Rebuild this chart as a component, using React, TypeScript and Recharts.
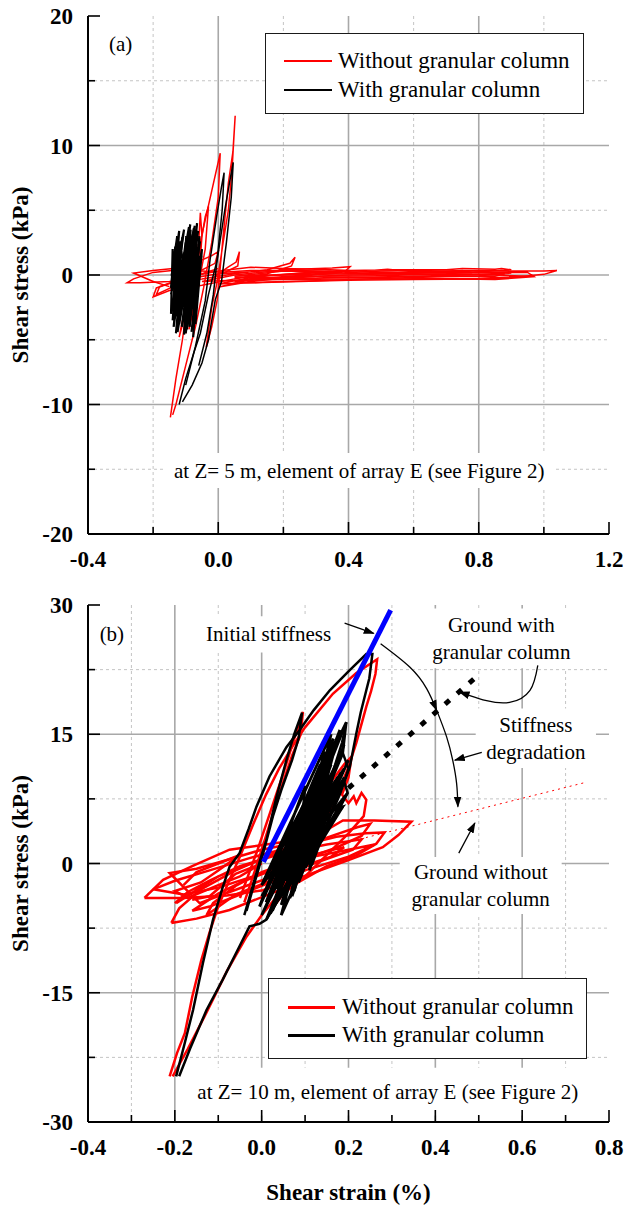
import React from 'react';
import { LineChart, Line, XAxis, YAxis, CartesianGrid, ReferenceArea, Legend } from 'recharts';

type P = [number, number];
const toPts = (a: P[]) => a.map(([x, y]) => ({ x, y }));
const FONT = '"Liberation Serif", "Times New Roman", serif';

const SERIES = [
  { name: 'Without granular column', color: '#ff0000' },
  { name: 'With granular column', color: '#000000' },
];

// ---------- panel (a) axes ----------
const A_X_TICKS = [-0.4, -0.2, 0, 0.2, 0.4, 0.6, 0.8, 1.0, 1.2];
const A_X_LABELED = [-0.4, 0, 0.4, 0.8, 1.2];
const A_X_MAJOR_GRID = [0, 0.4, 0.8];
const A_X_MINOR_GRID = [-0.2, 0.2, 0.6, 1.0];
const A_Y_TICKS = [-20, -15, -10, -5, 0, 5, 10, 15, 20];
const A_Y_LABELED = [-20, -10, 0, 10, 20];
const A_Y_MAJOR_GRID = [-10, 0, 10];
const A_Y_MINOR_GRID = [-15, -5, 5, 15];

// ---------- panel (b) axes ----------
const B_X_TICKS = [-0.4, -0.3, -0.2, -0.1, 0, 0.1, 0.2, 0.3, 0.4, 0.5, 0.6, 0.7, 0.8];
const B_X_LABELED = [-0.4, -0.2, 0, 0.2, 0.4, 0.6, 0.8];
const B_X_MAJOR_GRID = [-0.2, 0, 0.2, 0.4, 0.6];
const B_X_MINOR_GRID = [-0.3, -0.1, 0.1, 0.3, 0.5, 0.7];
const B_Y_TICKS = [-30, -22.5, -15, -7.5, 0, 7.5, 15, 22.5, 30];
const B_Y_LABELED = [-30, -15, 0, 15, 30];
const B_Y_MAJOR_GRID = [-15, 0, 15];
const B_Y_MINOR_GRID = [-22.5, -7.5, 7.5, 22.5];

// ---------- panel (a) data ----------
const A_RED_BIG: P[] = [[-0.147,-11.0],[-0.13,-8.0],[-0.11,-5.0],[-0.096,-2.4],[-0.07,0.8],[-0.045,3.7],[-0.02,6.5],[0.006,9.4],[0.0,6.0],[-0.02,2.5],[-0.045,-1.0],[-0.07,-4.0],[-0.1,-7.0],[-0.13,-10.0],[-0.14,-10.8]];
const A_RED_PEAK: P[] = [[-0.037,-5.6],[-0.02,-2.5],[-0.003,-0.5],[0.015,2.5],[0.031,5.0],[0.042,8.0],[0.052,12.3],[0.045,9.5],[0.031,7.1],[0.015,3.0],[-0.003,-1.9],[-0.02,-4.0],[-0.037,-5.6]];
const A_RED_SMALL: P[] = [[-0.1,-4.5],[-0.07,0],[-0.04,4.5],[-0.03,5.3],[-0.04,2],[-0.07,-2],[-0.09,-4.2],[-0.06,-0.5],[-0.05,3],[-0.055,4.8],[-0.06,2.5],[-0.08,-1],[-0.12,-4.8],[-0.11,-3.5]];
const A_RED_LEFT: P[] = [[-0.15,-0.9],[-0.2,-0.5],[-0.26,0.15],[-0.2,0.35],[-0.1,0.6],[-0.02,1.5],[0.0,1.8],[-0.01,0.9],[-0.08,0.0],[-0.18,-0.9],[-0.19,-1.5],[-0.13,-0.8],[-0.05,0.1],[0.0,0.5]];
const A_RED_FLAT: P[] = [[-0.02,-0.3],[0.03,0.6],[0.055,1.0],[0.065,1.8],[0.06,0.7],[0.02,0.2],[-0.05,0.3],[-0.12,0.4],[-0.2,0.2],[-0.26,-0.3],[-0.28,-0.6],[-0.24,-0.6],[-0.15,-0.5],[-0.05,-0.3],[0.05,0.1],[0.15,0.4],[0.22,0.9],[0.236,1.37],[0.225,0.7],[0.15,0.1],[0.05,-0.3],[-0.05,-0.8],[-0.15,-1.2],[-0.2,-1.7],[-0.19,-1.0],[-0.12,-0.4],[0.0,0.1],[0.2,0.4],[0.35,0.55],[0.405,0.64],[0.39,0.3],[0.25,-0.1],[0.1,-0.5],[0.006,-0.9],[0.1,-0.3],[0.3,0.05],[0.5,0.3],[0.6,0.35],[0.7,0.3],[0.8,0.35],[0.9,0.3],[1.0,0.3],[1.04,0.35],[1.0,0.05],[0.9,-0.2],[0.8,-0.3],[0.6,-0.35],[0.4,-0.4],[0.25,-0.5],[0.1,-0.6],[0.05,-0.5],[0.2,-0.2],[0.4,0.0],[0.6,0.15],[0.8,0.2],[0.95,0.2],[0.97,-0.13],[0.85,-0.35],[0.6,-0.25],[0.4,-0.15],[0.2,-0.3],[0.1,-0.1],[0.3,0.2],[0.5,0.1],[0.7,0.0],[0.88,0.1],[0.85,-0.1],[0.6,-0.1],[0.3,-0.25],[0.05,-0.2]];
const A_RED_FLAT2: P[] = [[-0.1,-0.2],[0.0,0.3],[0.1,0.6],[0.2,0.5],[0.3,0.45],[0.45,0.3],[0.52,0.45],[0.6,0.25],[0.75,0.25],[0.9,0.15],[0.8,-0.05],[0.6,-0.2],[0.45,-0.3],[0.3,-0.45],[0.15,-0.55],[0.0,-0.7],[0.1,-0.2],[0.25,0.15],[0.4,0.35],[0.55,0.4],[0.7,0.4],[0.75,0.5],[0.85,0.45],[0.87,0.5],[0.9,0.4],[0.7,0.1],[0.5,-0.05],[0.3,-0.1],[0.1,-0.35],[-0.05,-0.5],[0.05,0.0],[0.15,0.25],[0.25,0.35],[0.35,0.25],[0.2,0.0],[0.08,-0.15]];
const A_RED_FLAT3: P[] = [[0.0,-0.45],[0.2,-0.35],[0.4,-0.3],[0.6,-0.3],[0.8,-0.25],[0.95,-0.1],[0.8,0.05],[0.6,0.05],[0.4,0.1],[0.2,0.0],[0.05,-0.1],[0.2,0.3],[0.4,0.25],[0.6,0.2],[0.75,0.35],[0.78,0.2],[0.5,0.2],[0.3,0.3],[0.1,0.35],[0.0,0.2]];
const A_BLACK_BIG: P[] = [[-0.12,-10.0],[-0.1,-8.0],[-0.075,-6.0],[-0.055,-4.5],[-0.03,-1.5],[-0.003,1.2],[0.02,5.0],[0.035,7.2],[0.046,8.7],[0.04,6.0],[0.025,2.5],[0.01,-0.5],[-0.009,-1.9],[-0.03,-5.0],[-0.05,-6.8],[-0.08,-8.5],[-0.11,-9.8]];
const A_BLACK_SECOND: P[] = [[-0.1,-8.5],[-0.07,-5.5],[-0.04,-2.0],[-0.025,1.2],[-0.005,4.5],[0.01,6.8],[0.018,7.9],[0.012,5.0],[0.0,2.0],[-0.015,-1.5],[-0.035,-4.5],[-0.06,-7.0]];
const A_BLACK_CLUSTER: P[] = [[-0.142,-2.4],[-0.11,2.9],[-0.137,-4.0],[-0.1,2.5],[-0.13,-3.2],[-0.086,3.9],[-0.117,-2.9],[-0.093,3.2],[-0.125,-4.4],[-0.075,3.6],[-0.108,-3.6],[-0.065,4.0],[-0.096,-4.2],[-0.08,2.8],[-0.12,-3.8],[-0.07,3.3],[-0.088,-4.0],[-0.058,3.0],[-0.077,-4.8],[-0.06,1.5],[-0.1,-3.0],[-0.132,2.2],[-0.145,-1.0],[-0.12,3.4],[-0.14,-3.5],[-0.09,3.7],[-0.105,-4.6],[-0.068,2.4],[-0.085,-3.2],[-0.05,2.0],[-0.07,-3.8],[-0.055,1.0],[-0.115,-1.5],[-0.128,1.0],[-0.138,-2.0],[-0.104,1.8],[-0.112,-2.2],[-0.078,1.2]];
const A_BLACK_CLUSTER2: P[] = [[-0.145,-1.5],[-0.105,3.5],[-0.14,-2.8],[-0.095,2.0],[-0.128,-4.2],[-0.082,3.0],[-0.122,-2.0],[-0.072,3.8],[-0.112,-4.0],[-0.062,3.4],[-0.1,-4.5],[-0.056,2.6],[-0.092,-3.8],[-0.052,1.5],[-0.082,-4.4],[-0.062,0.5],[-0.09,-2.0],[-0.118,2.6],[-0.135,-0.5],[-0.14,2.0],[-0.145,-3.0],[-0.11,1.0],[-0.13,-4.5],[-0.1,0.5],[-0.12,-1.0],[-0.085,3.5],[-0.095,-2.5],[-0.065,2.0],[-0.08,-2.5],[-0.058,0.0],[-0.134,0.5],[-0.126,3.0],[-0.143,0.0],[-0.118,-3.2],[-0.098,3.0],[-0.106,-1.0]];

// ---------- panel (b) data ----------
const B_RED_BIG: P[] = [[-0.212,-24.7],[-0.195,-22.0],[-0.177,-19.7],[-0.16,-15.5],[-0.139,-11.2],[-0.12,-8.0],[-0.1,-5.0],[-0.075,-2.0],[-0.05,0.8],[-0.02,4.5],[0.01,8.0],[0.04,11.0],[0.07,13.5],[0.1,15.8],[0.164,19.7],[0.218,22.1],[0.266,23.7],[0.262,22.0],[0.252,20.0],[0.241,18.2],[0.218,14.0],[0.2,11.2],[0.17,7.5],[0.13,3.5],[0.08,-0.5],[0.04,-3.5],[0.0,-6.0],[-0.035,-8.5],[-0.08,-12.5],[-0.127,-17.3],[-0.17,-21.5],[-0.205,-24.7]];
const B_RED_SPIKE: P[] = [[-0.05,-4.0],[-0.01,1.5],[0.02,6.0],[0.05,10.5],[0.075,14.5],[0.095,17.6],[0.09,15.0],[0.07,12.5],[0.04,8.0],[0.015,4.0],[-0.01,0.0],[-0.04,-4.5]];
const B_RED_MID: P[] = [[0.0,-4.0],[0.04,0.5],[0.08,3.5],[0.12,6.5],[0.16,9.5],[0.19,11.5],[0.207,12.4],[0.2,10.0],[0.185,8.0],[0.2,7.0],[0.212,7.8],[0.218,7.0],[0.23,8.2],[0.241,7.4],[0.235,5.5],[0.2,3.5],[0.15,1.0],[0.1,-1.5],[0.05,-3.5],[0.02,-5.5]];
const B_RED_FLAT1: P[] = [[-0.27,-4.0],[-0.227,-1.9],[-0.16,-0.3],[-0.074,1.6],[0.05,2.5],[0.12,3.0],[0.187,5.0],[0.26,5.0],[0.345,4.85],[0.315,3.3],[0.279,1.9],[0.2,0.4],[0.157,-0.4],[0.08,-1.8],[0.003,-3.1],[-0.08,-3.7],[-0.18,-4.0],[-0.27,-4.0]];
const B_RED_FLAT2: P[] = [[-0.208,-6.9],[-0.19,-5.2],[-0.14,-3.0],[-0.06,-0.8],[0.03,1.2],[0.1,2.2],[0.172,3.1],[0.24,3.5],[0.283,3.6],[0.264,2.3],[0.22,1.0],[0.15,-0.3],[0.08,-2.3],[-0.074,-5.4],[-0.15,-6.4],[-0.208,-6.9]];
const B_RED_FLAT3: P[] = [[-0.2,-4.6],[-0.17,-3.3],[-0.12,-2.0],[-0.05,-0.3],[0.05,1.2],[0.15,2.2],[0.23,2.8],[0.21,1.6],[0.12,0.0],[0.03,-1.8],[-0.06,-3.6],[-0.127,-6.0],[-0.112,-4.6],[-0.06,-2.6],[0.0,-1.0],[0.1,0.8],[0.19,1.9],[0.16,0.8],[0.06,-0.9],[-0.03,-2.5],[-0.143,-4.6],[-0.212,-1.1],[-0.15,-0.6],[-0.08,0.4],[0.0,1.6],[0.1,2.6],[0.0,0.5],[-0.1,-1.5],[-0.197,-4.6]];
const B_RED_FLAT4: P[] = [[-0.25,-3.0],[-0.2,-2.0],[-0.12,-0.8],[-0.03,0.6],[0.06,1.8],[0.15,3.0],[0.22,4.2],[0.25,4.6],[0.23,3.2],[0.17,1.8],[0.08,0.2],[-0.02,-1.5],[-0.1,-2.8],[-0.18,-3.6],[-0.25,-3.0]];
const B_RED_FLAT5: P[] = [[-0.16,-5.5],[-0.1,-3.5],[-0.04,-2.0],[0.04,-0.5],[0.12,0.8],[0.2,1.6],[0.26,2.2],[0.2,0.8],[0.1,-0.8],[0.02,-2.2],[-0.06,-3.8],[-0.12,-5.0],[-0.16,-5.5]];
const B_RED_LEFT: P[] = [[-0.18,-2.5],[-0.15,-1.0],[-0.1,0.0],[-0.05,1.0],[-0.1,-0.8],[-0.14,-2.2],[-0.2,-3.2],[-0.17,-4.0],[-0.1,-2.5],[-0.05,-1.5],[0.0,0.0],[-0.06,-1.2],[-0.12,-3.8],[-0.16,-4.2]];
const B_BLACK_BIG: P[] = [[-0.197,-24.7],[-0.178,-21.0],[-0.158,-17.0],[-0.135,-11.5],[-0.112,-6.5],[-0.09,-2.8],[-0.074,-0.4],[-0.051,1.2],[-0.03,4.0],[-0.012,6.6],[0.018,10.1],[0.057,13.5],[0.0875,15.5],[0.12,17.8],[0.157,20.1],[0.2,22.3],[0.241,24.3],[0.255,24.3],[0.248,21.5],[0.241,20.1],[0.228,17.5],[0.218,15.1],[0.203,11.2],[0.18,8.0],[0.15,4.5],[0.11,1.0],[0.07,-2.0],[0.035,-4.5],[0.011,-6.5],[-0.005,-7.0],[-0.028,-7.3],[-0.051,-9.6],[-0.09,-13.5],[-0.127,-17.0],[-0.165,-21.5],[-0.19,-24.7]];
const B_BLACK_SPIKE: P[] = [[-0.04,-6.0],[-0.02,-2.5],[0.0,1.0],[0.011,2.7],[0.034,7.7],[0.057,12.0],[0.075,15.0],[0.093,17.5],[0.085,14.5],[0.07,12.0],[0.045,8.5],[0.026,5.5],[0.005,1.5],[-0.015,-2.0],[-0.035,-5.5]];
const B_BLACK_RIGHT: P[] = [[0.1,-0.5],[0.15,6.0],[0.187,6.6],[0.17,5.5],[0.198,8.2],[0.19,9.5],[0.2,11],[0.187,12.8],[0.195,16.4],[0.185,14],[0.16,10],[0.12,5],[0.08,1]];
const B_BLACK_DENSE: P[] = [[0.0,-3.8],[0.15,9.0],[0.011,-6.5],[0.17,13.5],[0.03,-4.5],[0.195,16.4],[0.02,-2.0],[0.16,11.5],[0.05,-3.5],[0.187,12.8],[0.04,-1.0],[0.175,10.0],[0.07,-2.5],[0.198,8.2],[0.06,-0.5],[0.18,15.5],[0.09,-1.5],[0.14,12.0],[0.025,-5.5],[0.165,14.5],[0.08,0.5],[0.19,11.0],[0.015,-1.0],[0.13,10.0],[0.055,-2.0],[0.187,6.6],[0.1,-0.5],[0.155,7.0],[0.035,-3.0],[0.12,8.0],[0.065,-4.0],[0.185,9.5],[0.045,-6.0],[0.145,13.0],[0.11,-0.8],[0.17,8.5],[0.0,-2.5],[0.16,15.0],[0.075,-3.2],[0.125,6.0],[0.03,-1.5],[0.11,7.5],[-0.005,-5.0],[0.1,9.0],[0.085,-1.0],[0.2,12.0]];
const B_BLACK_DENSE2: P[] = [[0.005,-2.0],[0.14,10.5],[0.02,-4.0],[0.16,13.0],[0.04,-2.8],[0.18,12.5],[0.05,-1.5],[0.172,9.0],[0.06,-3.0],[0.19,13.8],[0.075,-1.8],[0.165,8.0],[0.085,-2.2],[0.182,10.5],[0.095,0.2],[0.15,11.0],[0.035,-0.5],[0.135,11.5],[0.01,-4.5],[0.125,9.0],[0.045,-4.8],[0.14,6.5],[0.07,-3.8],[0.175,12.0],[0.105,0.5],[0.168,11.0],[0.115,-0.2],[0.19,10.0],[0.02,-5.8],[0.11,5.0],[0.0,-6.0],[0.095,4.5]];
const B_INITIAL: P[] = [[0.004,0.2],[0.297,29.4]];
const B_WITH_SECANT: P[] = [[0.2,8.75],[0.5,21.9]];
const B_WITHOUT_SECANT: P[] = [[0.2,2.5],[0.745,9.4]];
// annotation arrows (data coordinates)
const ARR_INITIAL: P[] = [[0.191,27.9],[0.258,26.7]];
const ARR_DEG_1: P[] = [[0.274,25.5],[0.341,22.8],[0.38,20.3],[0.403,17.8]];
const ARR_DEG_2: P[] = [[0.403,17.8],[0.426,14.7],[0.44,12.0],[0.449,9.3],[0.452,6.6]];
const ARR_DEG_TEXT: P[] = [[0.507,12.9],[0.445,12.0]];
const ARR_WITH: P[] = [[0.636,23.0],[0.618,20.1],[0.571,18.7],[0.518,18.9],[0.479,19.5],[0.456,19.9]];
const ARR_WITHOUT: P[] = [[0.454,1.2],[0.491,4.7]];

const fmt1 = (v: number) => v.toFixed(1);
const fmt0 = (v: number) => String(v);
const isIn = (arr: number[], v: number) => arr.some((a) => Math.abs(a - v) < 1e-9);

const makeTick = (side: 'bottom' | 'top' | 'left' | 'right', labeled: number[], fmt: (v: number) => string) => (props: any) => {
  const { x, y, payload } = props;
  const v = payload.value as number;
  const maj = isIn(labeled, v);
  const len = maj ? 12 : 7;
  let ln: any;
  if (side === 'bottom') ln = <line x1={x} y1={y} x2={x} y2={y - len} stroke="#000" strokeWidth={1.6} />;
  else if (side === 'top') ln = <line x1={x} y1={y} x2={x} y2={y + len} stroke="#000" strokeWidth={1.6} />;
  else if (side === 'left') ln = <line x1={x} y1={y} x2={x + len} y2={y} stroke="#000" strokeWidth={1.6} />;
  else ln = <line x1={x} y1={y} x2={x - len} y2={y} stroke="#000" strokeWidth={1.6} />;
  let text: any = null;
  if (maj && side === 'bottom')
    text = <text x={x} y={y + 33} textAnchor="middle" fontFamily={FONT} fontWeight="bold" fontSize={23} fill="#000">{fmt(v)}</text>;
  if (maj && side === 'left')
    text = <text x={x - 15} y={y + 8} textAnchor="end" fontFamily={FONT} fontWeight="bold" fontSize={23} fill="#000">{fmt(v)}</text>;
  return <g>{ln}{text}</g>;
};

const textBox = (key: string, x1: number, x2: number, y1: number, y2: number, lines: string[], filled = true, size = 21) => (
  <ReferenceArea
    key={key}
    x1={x1}
    x2={x2}
    y1={y1}
    y2={y2}
    fill="#ffffff"
    fillOpacity={filled ? 1 : 0}
    stroke="none"
    ifOverflow="visible"
    label={(p: any) => {
      const vb = p.viewBox;
      const cx = vb.x + vb.width / 2;
      const cy = vb.y + vb.height / 2;
      const gap = 27;
      return (
        <g>
          {lines.map((t, i) => (
            <text key={i} x={cx} y={cy + (i - (lines.length - 1) / 2) * gap + 7} textAnchor="middle" fontFamily={FONT} fontSize={size} fill="#000">{t}</text>
          ))}
        </g>
      );
    }}
  />
);

const legendContent = (rowTops: number[], swLeft: number, swLen: number, textLeft: number, lw: number) => () => (
  <div style={{ position: 'relative', width: 319, height: 81, boxSizing: 'border-box', border: '1.6px solid #1a1a1a', background: '#fff', fontFamily: FONT, fontSize: 23, color: '#000' }}>
    {SERIES.map((s, i) => (
      <div key={s.name} style={{ position: 'absolute', left: 0, top: rowTops[i] - 14, height: 28, display: 'flex', alignItems: 'center' }}>
        <div style={{ marginLeft: swLeft, width: swLen, height: lw, background: s.color }} />
        <span style={{ marginLeft: textLeft - swLeft - swLen, lineHeight: '28px', whiteSpace: 'nowrap' }}>{s.name}</span>
      </div>
    ))}
  </div>
);

const yLabel = (p: any) => {
  const vb = p.viewBox;
  const cy = vb.y + vb.height / 2;
  return (
    <text transform={`translate(${vb.x + 20},${cy}) rotate(-90)`} textAnchor="middle" fontFamily={FONT} fontWeight="bold" fontSize={23} fill="#000">Shear stress (kPa)</text>
  );
};

const xLabel = (p: any) => {
  const vb = p.viewBox;
  return (
    <text x={vb.x + vb.width / 2} y={vb.y + 78} textAnchor="middle" fontFamily={FONT} fontWeight="bold" fontSize={23} fill="#000">Shear strain (%)</text>
  );
};

const line = (key: string, data: P[], stroke: string, w: number, extra: any = {}) => (
  <Line key={key} data={toPts(data)} dataKey="y" type="linear" stroke={stroke} strokeWidth={w} dot={false} activeDot={false} isAnimationActive={false} legendType="none" {...extra} />
);

const axisLine = { stroke: '#000', strokeWidth: 2 };

function axes(xd: number[], xt: number[], xl: number[], yd: number[], yt: number[], yl: number[], xh: number, withXLabel: boolean) {
  return [
    <XAxis key="xb" xAxisId={0} dataKey="x" type="number" domain={xd} ticks={xt} interval={0} allowDataOverflow height={xh} tickSize={0} tickMargin={0} tickLine={false} axisLine={axisLine} tick={makeTick('bottom', xl, fmt1)} label={withXLabel ? xLabel : undefined} />,
    <XAxis key="xt" xAxisId="top" orientation="top" dataKey="x" type="number" domain={xd} ticks={xt} interval={0} allowDataOverflow height={0} tickSize={0} tickMargin={0} tickLine={false} axisLine={axisLine} tick={makeTick('top', xl, fmt1)} />,
    <YAxis key="yl" yAxisId={0} type="number" domain={yd} ticks={yt} interval={0} allowDataOverflow width={80} tickSize={0} tickMargin={0} tickLine={false} axisLine={axisLine} tick={makeTick('left', yl, fmt0)} label={yLabel} />,
    <YAxis key="yr" yAxisId="right" orientation="right" type="number" domain={yd} ticks={yt} interval={0} allowDataOverflow width={0} tickSize={0} tickMargin={0} tickLine={false} axisLine={axisLine} tick={makeTick('right', yl, fmt0)} />,
  ];
}

function grids(xMaj: number[], xMin: number[], yMaj: number[], yMin: number[]) {
  return [
    <CartesianGrid key="gmin" verticalValues={xMin} horizontalValues={yMin} stroke="#c4c4c4" strokeWidth={1} strokeDasharray="3 3" />,
    <CartesianGrid key="gmaj" verticalValues={xMaj} horizontalValues={yMaj} stroke="#a8a8a8" strokeWidth={1.6} />,
  ];
}

function PanelA() {
  return (
    <LineChart width={626} height={580} margin={{ top: 16, right: 17, bottom: 0, left: 8 }}>
      {grids(A_X_MAJOR_GRID, A_X_MINOR_GRID, A_Y_MAJOR_GRID, A_Y_MINOR_GRID)}
      {axes([-0.4, 1.2], A_X_TICKS, A_X_LABELED, [-20, 20], A_Y_TICKS, A_Y_LABELED, 46, false)}
      {textBox('ann', -0.163, 1.029, -13.75, -16.45, ['at Z= 5 m, element of array E (see Figure 2)'])}
      {textBox('lab', -0.34, -0.26, 16.5, 19.1, ['(a)'], false)}
      {line('ar1', A_RED_FLAT, '#ff0000', 1.5)}
      {line('ar1b', A_RED_FLAT2, '#ff0000', 1.5)}
      {line('ar1c', A_RED_FLAT3, '#ff0000', 1.5)}
      {line('ar2', A_RED_LEFT, '#ff0000', 1.5)}
      {line('ar3', A_RED_BIG, '#ff0000', 1.5)}
      {line('ar4', A_RED_PEAK, '#ff0000', 1.5)}
      {line('ar5', A_RED_SMALL, '#ff0000', 1.5)}
      {line('ab1', A_BLACK_CLUSTER, '#000000', 2.2)}
      {line('ab1b', A_BLACK_CLUSTER2, '#000000', 2.2)}
      {line('ab2', A_BLACK_BIG, '#000000', 1.5)}
      {line('ab3', A_BLACK_SECOND, '#000000', 1.5)}
      <Legend layout="horizontal" verticalAlign="middle" align="center" wrapperStyle={{ left: 265, top: 33, width: 319, height: 81 }} content={legendContent([27, 56], 18, 48, 72, 1.6)} />
    </LineChart>
  );
}

function PanelB() {
  const arrow = { markerEnd: 'url(#ahB)' };
  return (
    <LineChart width={626} height={633} margin={{ top: 25, right: 17, bottom: 0, left: 8 }}>
      <defs>
        <marker id="ahB" viewBox="0 0 10 10" refX="9" refY="5" markerWidth="11" markerHeight="11" markerUnits="userSpaceOnUse" orient="auto">
          <path d="M0,1.5 L10,5 L0,8.5 z" fill="#000" />
        </marker>
      </defs>
      {grids(B_X_MAJOR_GRID, B_X_MINOR_GRID, B_Y_MAJOR_GRID, B_Y_MINOR_GRID)}
      {axes([-0.4, 0.8], B_X_TICKS, B_X_LABELED, [-30, 30], B_Y_TICKS, B_Y_LABELED, 91, true)}
      {textBox('t1', -0.145, 0.177, 24.5, 28.7, ['Initial stiffness'])}
      {textBox('t2', 0.376, 0.728, 22.65, 29.6, ['Ground with', 'granular column'])}
      {textBox('t3', 0.493, 0.77, 11.07, 18.0, ['Stiffness', 'degradation'])}
      {textBox('t4', 0.318, 0.691, -5.85, 0.75, ['Ground without', 'granular column'])}
      {textBox('t5', -0.166, 0.747, -29.26, -23.7, ['at Z= 10 m, element of array E (see Figure 2)'])}
      {textBox('t6', -0.39, -0.3, 25.0, 28.2, ['(b)'], false)}
      {line('br1', B_RED_FLAT1, '#ff0000', 2.5)}
      {line('br2', B_RED_FLAT2, '#ff0000', 2.5)}
      {line('br3', B_RED_FLAT3, '#ff0000', 2.5)}
      {line('br3b', B_RED_FLAT4, '#ff0000', 2.5)}
      {line('br3c', B_RED_FLAT5, '#ff0000', 2.5)}
      {line('br3d', B_RED_LEFT, '#ff0000', 2.5)}
      {line('br4', B_RED_BIG, '#ff0000', 2.5)}
      {line('br5', B_RED_SPIKE, '#ff0000', 2.5)}
      {line('br6', B_RED_MID, '#ff0000', 2.5)}
      {line('bb1', B_BLACK_BIG, '#000000', 2.5)}
      {line('bb2', B_BLACK_SPIKE, '#000000', 2.5)}
      {line('bb3', B_BLACK_DENSE, '#000000', 2.8)}
      {line('bb3b', B_BLACK_DENSE2, '#000000', 2.8)}
      {line('bb4', B_BLACK_RIGHT, '#000000', 2.5)}
      {line('bsw', B_WITHOUT_SECANT, '#ff0000', 1, { strokeDasharray: '2 4' })}
      {line('bsg', B_WITH_SECANT, '#000000', 5, { strokeDasharray: '6 10' })}
      {line('bin', B_INITIAL, '#0000ff', 5)}
      {line('a1', ARR_INITIAL, '#000000', 1.3, arrow)}
      {line('a2', ARR_DEG_1, '#000000', 1.3, { ...arrow, type: 'natural' })}
      {line('a3', ARR_DEG_2, '#000000', 1.3, { ...arrow, type: 'natural' })}
      {line('a4', ARR_DEG_TEXT, '#000000', 1.3, arrow)}
      {line('a5', ARR_WITH, '#000000', 1.3, { ...arrow, type: 'natural' })}
      {line('a6', ARR_WITHOUT, '#000000', 1.3, arrow)}
      <Legend layout="horizontal" verticalAlign="middle" align="center" wrapperStyle={{ left: 268, top: 398, width: 319, height: 81 }} content={legendContent([28, 56], 19, 47, 73, 3)} />
    </LineChart>
  );
}

export default function App() {
  return (
    <div style={{ position: 'absolute', left: 0, top: 0, width: 626, height: 1213, background: '#fff' }}>
      <div style={{ position: 'absolute', left: 0, top: 0 }}>
        <PanelA />
      </div>
      <div style={{ position: 'absolute', left: 0, top: 580 }}>
        <PanelB />
      </div>
    </div>
  );
}
